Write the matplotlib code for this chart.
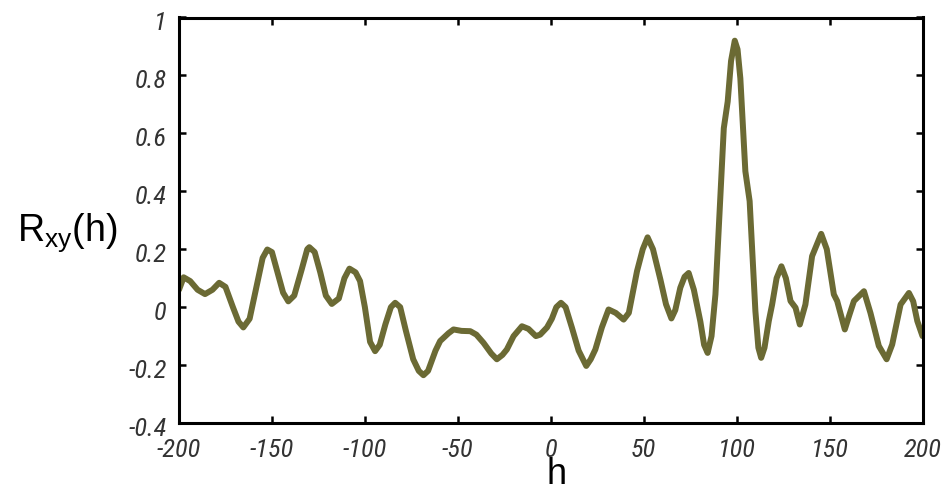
import matplotlib
matplotlib.use("Agg")
import matplotlib.pyplot as plt
import matplotlib.transforms as mtransforms
from matplotlib import font_manager

lags = [-200, -197.5, -194, -190, -186, -182, -178.4, -175, -171, -168, -165.4, -162, -158, -155,
        -152.5, -150, -147, -144, -141.2, -138, -134, -131, -129.9, -127, -124, -121, -117.8, -114,
        -111, -108.3, -105, -102.6, -100, -97.2, -94.5, -92, -89, -86, -83.7, -81, -78, -74, -71,
        -68.5, -66, -62, -59.5, -55, -52.3, -48, -43.3, -40, -36.2, -32, -29, -26, -23.6, -20,
        -15.5, -12, -8, -5.7, -2, 0.6, 3, 5.5, 8, 11.4, 15, 19.1, 21.5, 24, 27.5, 31.1, 35, 39.2,
        42, 46.4, 49.5, 52.1, 55, 59, 62, 64.9, 67, 69.7, 72, 74.2, 77, 80.5, 82.5, 84.4, 86.5,
        88.6, 91, 93.1, 95.2, 97, 99, 100.5, 102, 104.7, 107, 110.1, 111.7, 113.2, 115, 117.3,
        119.1, 121.5, 124.1, 126.5, 129, 131.7, 134, 137, 140.6, 145.5, 148.5, 152.3, 154.1,
        158.2, 160.5, 163.1, 168.5, 172, 176.5, 180.7, 183.7, 188.2, 192.7, 195, 197.2, 200]
rxy = [0.06, 0.103, 0.09, 0.06, 0.045, 0.06, 0.084, 0.07, 0.0, -0.05, -0.07, -0.04, 0.08, 0.17,
       0.199, 0.19, 0.12, 0.05, 0.02, 0.04, 0.13, 0.2, 0.207, 0.19, 0.12, 0.04, 0.011, 0.03,
       0.1, 0.133, 0.12, 0.09, 0.0, -0.12, -0.152, -0.13, -0.06, 0.0, 0.015, 0.0, -0.08, -0.18, -0.22,
       -0.235, -0.22, -0.15, -0.117, -0.09, -0.077, -0.082, -0.083, -0.095, -0.123, -0.16, -0.18, -0.165, -0.146, -0.1,
       -0.066, -0.075, -0.1, -0.095, -0.07, -0.04, 0.0, 0.015, 0.0, -0.071, -0.15, -0.203, -0.18, -0.146, -0.07, -0.008, -0.02, -0.043,
       -0.02, 0.124, 0.2, 0.241, 0.2, 0.095, 0.01, -0.039, -0.01, 0.067, 0.105, 0.118, 0.06, -0.05, -0.13, -0.158, -0.1,
       0.044, 0.35, 0.618, 0.71, 0.85, 0.92, 0.89, 0.79, 0.469, 0.366, -0.014, -0.14, -0.175, -0.14, -0.048,
       0.009, 0.1, 0.141, 0.1, 0.021, -0.002, -0.06, 0.009, 0.176, 0.253, 0.2, 0.044, 0.021,
       -0.077, -0.03, 0.021, 0.055, -0.02, -0.134, -0.18, -0.129, 0.009, 0.049, 0.02, -0.048, -0.1]

xticks = [-200, -150, -100, -50, 0, 50, 100, 150, 200]
yticks = [-0.4, -0.2, 0, 0.2, 0.4, 0.6, 0.8, 1]
ytick_labels = ["-0.4", "-0.2", "0", "0.2", "0.4", "0.6", "0.8", "1"]

entries = font_manager.fontManager.ttflist
names = {f.name for f in entries}
tick_family, tick_stretch = "DejaVu Sans", "condensed"
for cand in ["Liberation Sans Narrow", "Roboto Condensed", "Open Sans Condensed", "DejaVu Sans Condensed"]:
    if cand in names:
        tick_family, tick_stretch = cand, "normal"
        break

fig = plt.figure(figsize=(9.5, 4.94), dpi=100)
ax = fig.add_axes([179 / 950, 1 - 423 / 494, (922.5 - 179) / 950, (423 - 17.5) / 494])
ax.plot(lags, rxy, color="#6b6a34", lw=4.3, solid_joinstyle="round", solid_capstyle="round")
ax.set_xlim(-200, 200)
ax.set_ylim(-0.4, 1)
ax.set_xticks(xticks)
ax.set_xticklabels([str(t) for t in xticks])
ax.set_yticks(yticks)
ax.set_yticklabels(ytick_labels)
for s in ax.spines.values():
    s.set_linewidth(2.2)
ax.tick_params(direction="in", length=5, width=1.8, top=True, right=True)
ax.tick_params(axis="x", pad=11)
ax.tick_params(axis="y", pad=9)
for lab in ax.get_xticklabels() + ax.get_yticklabels():
    lab.set_family(tick_family)
    lab.set_stretch(tick_stretch)
    lab.set_style("italic")
    lab.set_fontsize(19)
    lab.set_color("#333333")
shift = mtransforms.ScaledTranslation(0, -3 / 100, fig.dpi_scale_trans)
for lab in ax.get_yticklabels():
    lab.set_transform(lab.get_transform() + shift)
fig.text(557 / 950, 1 - 492 / 494, "h", fontsize=26, family="Liberation Sans", ha="center", va="bottom")
fig.text(67 / 950, 1 - 233 / 494, r"R$_{\mathregular{xy}}$(h)", fontsize=27, family="Liberation Sans",
         ha="center", va="center")
fig.savefig("out.png", dpi=100)
